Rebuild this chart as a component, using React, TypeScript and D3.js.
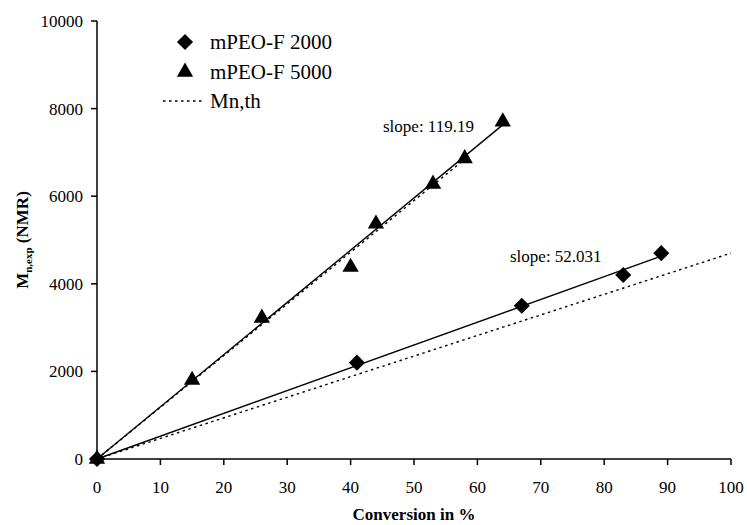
import * as d3 from "d3";

// measured points (conversion %, Mn exp)
const conv2000 = [0, 41, 67, 83, 89];
const mn2000 = [0, 2200, 3500, 4200, 4700];
const conv5000 = [0, 15, 26, 40, 44, 53, 58, 64];
const mn5000 = [0, 1800, 3220, 4380, 5370, 6280, 6860, 7700];

// linear fits through origin
const slope2000 = 52.031;
const slope5000 = 119.19;

// theoretical Mn lines (slope, last conversion)
const thSlope2000 = 47;
const thEnd2000 = 100;
const thSlope5000 = 118;
const thEnd5000 = 58;

const xTicks = [0, 10, 20, 30, 40, 50, 60, 70, 80, 90, 100];
const yTicks = [0, 2000, 4000, 6000, 8000, 10000];
const legendLabels = ["mPEO-F 2000", "mPEO-F 5000", "Mn,th"];

const font = "Liberation Serif";

export default function App() {
  const width = 747;
  const height = 525;
  const marginLeft = 97;
  const marginRight = 16;
  const marginTop = 21;
  const marginBottom = 66;

  const x = d3.scaleLinear([0, 100], [marginLeft, width - marginRight]);
  const y = d3.scaleLinear([0, 10000], [height - marginBottom, marginTop]);

  const line = d3
    .line<[number, number]>()
    .x((d) => x(d[0]))
    .y((d) => y(d[1]));

  const pts2000 = conv2000.map((c, i) => [c, mn2000[i]] as [number, number]);
  const pts5000 = conv5000.map((c, i) => [c, mn5000[i]] as [number, number]);

  const fit2000: [number, number][] = [[0, 0], [d3.max(conv2000)!, d3.max(conv2000)! * slope2000]];
  const fit5000: [number, number][] = [[0, 0], [d3.max(conv5000)!, d3.max(conv5000)! * slope5000]];
  const th2000: [number, number][] = [[0, 0], [thEnd2000, thEnd2000 * thSlope2000]];
  const th5000: [number, number][] = [[0, 0], [thEnd5000, thEnd5000 * thSlope5000]];

  const diamond = d3.symbol(d3.symbolSquare, 130)()!;
  const triangle = d3.symbol(d3.symbolTriangle, 115)()!;

  const y0 = y(0);

  return (
    <svg width={width} height={height} style={{ position: "absolute", left: 0, top: 0, fontFamily: font }}>
      <rect width={width} height={height} fill="#fff" />

      {/* theoretical lines */}
      <g fill="none" stroke="#000" strokeWidth={1.4} strokeDasharray="2.5,3.5">
        <path d={line(th2000)!} />
        <path d={line(th5000)!} />
      </g>

      {/* fit lines */}
      <g fill="none" stroke="#000" strokeWidth={1.4}>
        <path d={line(fit2000)!} />
        <path d={line(fit5000)!} />
      </g>

      {/* markers */}
      <g fill="#000">
        {pts2000.map((d, i) => (
          <path key={"d" + i} d={diamond} transform={`translate(${x(d[0])},${y(d[1])}) rotate(45)`} />
        ))}
        {pts5000.map((d, i) => (
          <path key={"t" + i} d={triangle} transform={`translate(${x(d[0])},${y(d[1])})`} />
        ))}
      </g>

      {/* axes */}
      <g stroke="#000" strokeWidth={1.5}>
        <line x1={x(0)} x2={x(100)} y1={y0} y2={y0} />
        <line x1={x(0)} x2={x(0)} y1={y(10000)} y2={y0} />
        {xTicks.map((t) => (
          <line key={"xt" + t} x1={x(t)} x2={x(t)} y1={y0} y2={y0 + 6} />
        ))}
        {yTicks.map((t) => (
          <line key={"yt" + t} x1={x(0) - 6} x2={x(0)} y1={y(t)} y2={y(t)} />
        ))}
      </g>
      <g style={{ fontFamily: font, fontSize: 17 }} fill="#000">
        {xTicks.map((t) => (
          <text key={"xl" + t} x={x(t)} y={y0 + 34} textAnchor="middle">
            {t}
          </text>
        ))}
        {yTicks.map((t) => (
          <text key={"yl" + t} x={x(0) - 14} y={y(t) + 6} textAnchor="end">
            {t}
          </text>
        ))}
      </g>

      {/* axis titles */}
      <text x={414} y={520} textAnchor="middle" style={{ fontFamily: font, fontSize: 17, fontWeight: "bold" }}>
        Conversion in %
      </text>
      <text
        transform="translate(28,240) rotate(-90)"
        textAnchor="middle"
        style={{ fontFamily: font, fontSize: 17, fontWeight: "bold" }}
      >
        M<tspan style={{ fontSize: 11 }} dy={4}>n,exp</tspan>
        <tspan dy={-4}> (NMR)</tspan>
      </text>

      {/* slope annotations */}
      <text x={383} y={132} style={{ fontFamily: font, fontSize: 17 }}>
        slope: {slope5000}
      </text>
      <text x={510} y={262} style={{ fontFamily: font, fontSize: 17 }}>
        slope: {slope2000}
      </text>

      {/* legend */}
      <g style={{ fontFamily: font, fontSize: 21 }} fill="#000">
        <path d={diamond} transform="translate(185,42) rotate(45)" />
        <text x={210} y={49}>{legendLabels[0]}</text>
        <path d={triangle} transform="translate(185,72)" />
        <text x={210} y={79}>{legendLabels[1]}</text>
        <line x1={163} x2={205} y1={101} y2={101} stroke="#000" strokeWidth={1.3} strokeDasharray="2.5,3.5" />
        <text x={210} y={108}>{legendLabels[2]}</text>
      </g>
    </svg>
  );
}
